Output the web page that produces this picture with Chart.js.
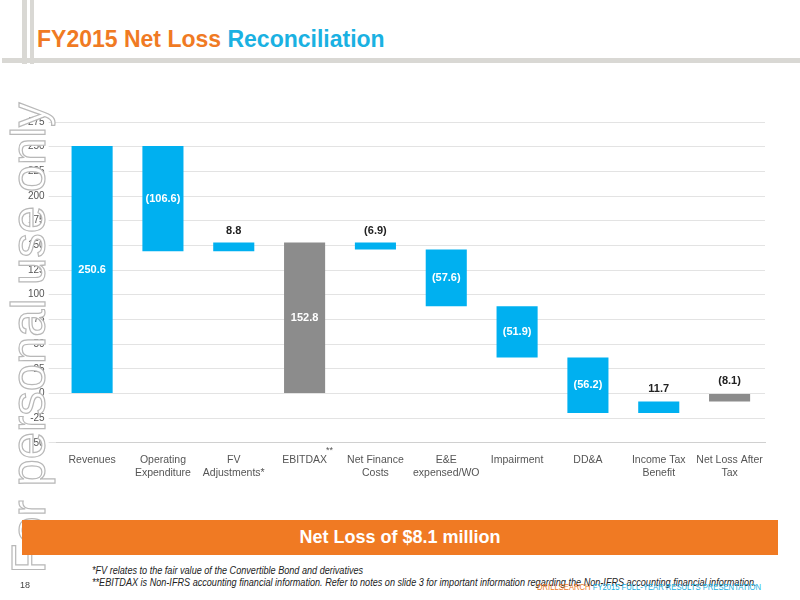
<!DOCTYPE html>
<html><head><meta charset="utf-8">
<script src="https://cdn.jsdelivr.net/npm/chart.js@4"></script>
<style>
body{margin:0;width:800px;height:600px;position:relative;background:#fff;font-family:"Liberation Sans",Arial,sans-serif;overflow:hidden}
#frame1{position:absolute;left:22px;top:0;width:5px;height:64px;background:#d9d8d4}
#frame3{position:absolute;left:30px;top:0;width:4px;height:64px;background:#d9d8d4}
#frame2{position:absolute;left:2px;top:58px;width:798px;height:5px;background:#d9d8d4}
#title{position:absolute;left:37px;top:26px;font-size:23px;font-weight:bold;color:#f07a23;transform:scaleX(1.0);transform-origin:left}
#title span{color:#1ab1e2}
#wm{position:absolute;left:-217px;top:310px;transform:rotate(-90deg);font-family:"Liberation Sans",Arial;font-size:49px;color:#fff;-webkit-text-stroke:1.2px #b8b8b8;width:490px;text-align:center;letter-spacing:0px;white-space:nowrap}
#cv{position:absolute;left:0;top:112px;width:800px;height:370px}
#banner{position:absolute;left:22px;top:520px;width:756px;height:35px;background:#f07a23;color:#fff;font-weight:bold;font-size:18px;text-align:center;line-height:35px}
#fn{position:absolute;left:92px;top:565px;font-size:10px;font-style:italic;color:#222;line-height:12px;white-space:nowrap;transform:scaleX(0.91);transform-origin:left}
#pg{position:absolute;left:20px;top:580px;font-size:9px;color:#444}
#ft{position:absolute;left:537px;top:582px;font-size:8.5px;color:#1ab1e2;white-space:nowrap;transform:scaleX(0.9);transform-origin:left}
#ft span{color:#f07a23}
</style></head><body>
<div id="frame1"></div><div id="frame3"></div><div id="frame2"></div>
<div id="title">FY2015 Net Loss <span>Reconciliation</span></div>
<div id="cv"><canvas id="c"></canvas></div>
<div id="wm">For personal use only</div>
<div id="banner">Net Loss of $8.1 million</div>
<div id="fn">*FV relates to the fair value of the Convertible Bond and derivatives<br>**EBITDAX is Non-IFRS accounting financial information. Refer to notes on slide 3 for important information regarding the Non-IFRS accounting financial information.</div>
<div id="pg">18</div>
<div id="ft"><span>DRILLSEARCH</span> FY2015 FULL-YEAR RESULTS PRESENTATION</div>
<script>
const categories=[["Revenues"],["Operating","Expenditure"],["FV","Adjustments*"],["EBITDAX"],["Net Finance","Costs"],["E&E","expensed/WO"],["Impairment"],["DD&A"],["Income Tax","Benefit"],["Net Loss After","Tax"]];
const barLow=[0,144.0,144.0,0,145.9,88.3,36.4,-19.8,-19.8,-8.1];
const barHigh=[250.6,250.6,152.8,152.8,152.8,145.9,88.3,36.4,-8.1,0];
const labels=["250.6","(106.6)","8.8","152.8","(6.9)","(57.6)","(51.9)","(56.2)","11.7","(8.1)"];
const labelInside=[true,true,false,true,false,true,true,true,false,false];
const barColors=["#00b0f0","#00b0f0","#00b0f0","#8c8c8c","#00b0f0","#00b0f0","#00b0f0","#00b0f0","#00b0f0","#8c8c8c"];
const yTicks=[275,250,225,200,175,150,125,100,75,50,25,0,-25,-50];
const F='"Liberation Sans",Arial,sans-serif';
const lblPlugin={id:'lbl',afterDatasetsDraw(ch){
 const ctx=ch.ctx,meta=ch.getDatasetMeta(0),y=ch.scales.y;
 ctx.save();ctx.font='bold 11px '+F;ctx.textAlign='center';ctx.textBaseline='middle';
 meta.data.forEach((b,i)=>{
  let py;
  if(labelInside[i]){py=y.getPixelForValue((barLow[i]+barHigh[i])/2);ctx.fillStyle='#fff';}
  else{py=y.getPixelForValue(Math.max(barLow[i],barHigh[i]))-12;ctx.fillStyle='#222';}
  ctx.fillText(labels[i],b.x,py);
 });
 const b3=meta.data[3];ctx.font='9px '+F;ctx.fillStyle='#555';
 ctx.fillText('**',b3.x+25,ch.chartArea.bottom+8);
 ctx.restore();
}};
new Chart(document.getElementById('c'),{type:'bar',
 data:{labels:categories,datasets:[{data:barLow.map((l,i)=>[l,barHigh[i]]),backgroundColor:barColors,categoryPercentage:0.58,barPercentage:1}]},
 options:{responsive:true,maintainAspectRatio:false,animation:false,
  layout:{padding:{left:24,right:35,top:4}},
  plugins:{legend:{display:false},tooltip:{enabled:false}},
  scales:{
   x:{grid:{display:false},border:{color:'#d0d0d0'},ticks:{color:'#555',font:{family:F,size:10.5},maxRotation:0,autoSkip:false}},
   y:{min:-50,max:275,afterBuildTicks(s){s.ticks=yTicks.map(v=>({value:v}));},grid:{color:'#e3e3e3'},border:{display:false},ticks:{color:'#555',font:{family:F,size:10},padding:4}}
  }},
 plugins:[lblPlugin]});
</script></body></html>
